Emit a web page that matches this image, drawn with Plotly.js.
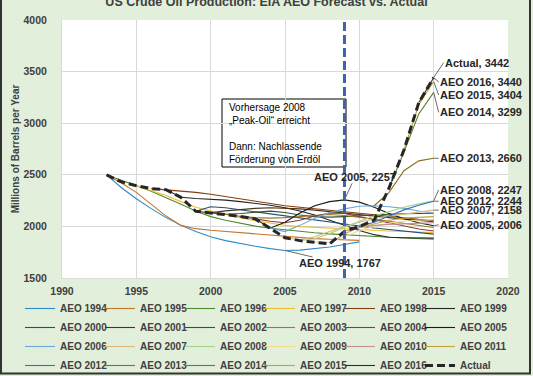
<!DOCTYPE html>
<html><head><meta charset="utf-8">
<script src="https://cdn.plot.ly/plotly-3.0.1.min.js"></script>
<style>html,body{margin:0;padding:0;background:#ffffff}#chart{width:533px;height:376px}</style>
</head><body><div id="chart"></div>
<script>
// ---------- DATA (millions of barrels per year) ----------
const seriesNames = ['AEO 1994','AEO 1995','AEO 1996','AEO 1997','AEO 1998','AEO 1999',
  'AEO 2000','AEO 2001','AEO 2002','AEO 2003','AEO 2004','AEO 2005',
  'AEO 2006','AEO 2007','AEO 2008','AEO 2009','AEO 2010','AEO 2011',
  'AEO 2012','AEO 2013','AEO 2014','AEO 2015','AEO 2016'];
const seriesStart = [1993,1993,1993,1995,1996,1997,1999,1999,2000,2001,2002,2003,
  2004,2005,2006,2007,2008,2009,2010,2011,2012,2013,2014];

const aeo1994 = [2499,2375,2268,2172,2085,2010,1950,1900,1862,1832,1808,1785,1767,1770,1782,1800,1825,1850];
const aeo1995 = [2499,2420,2330,2215,2100,2010,1978,1962,1950,1938,1925,1912,1900,1890,1882,1876,1870,1865];
const aeo1996 = [2499,2450,2395,2340,2280,2215,2150,2095,2060,2030,2003,1982,1965,1950,1938,1928,1918,1910,1902,1895,1888,1882,1876];
const aeo1997 = [2394,2350,2300,2240,2185,2150,2115,2085,2055,2030,2010,1998,1990,1982,1975,1968,1962,1956,1950,1945,1940];
const aeo1998 = [2366,2355,2345,2330,2312,2290,2265,2240,2218,2200,2185,2170,2155,2140,2125,2110,2095,2082,2070,2060];
const aeo1999 = [2355,2282,2270,2265,2255,2240,2225,2205,2180,2150,2110,2060,2010,1960,1920,1895,1890,1888,1886];
const aeo2000 = [2147,2190,2180,2160,2140,2120,2100,2080,2060,2040,2020,2000,1985,1970,1955,1940,1925];
const aeo2001 = [2147,2131,2150,2165,2175,2180,2178,2170,2158,2145,2130,2115,2100,2085,2070,2058,2045];
const aeo2002 = [2131,2118,2125,2140,2148,2135,2110,2095,2090,2095,2105,2112,2118,2122,2125,2128];
const aeo2003 = [2118,2097,2085,2080,2085,2095,2110,2115,2105,2090,2070,2050,2030,2010,1990];
const aeo2004 = [2097,2073,2050,2035,2060,2100,2130,2125,2095,2060,2030,2000,1975,1955];
const aeo2005 = [2073,1983,2040,2130,2200,2240,2257,2235,2185,2125,2075,2035,2006];
const aeo2006 = [1983,1950,2010,2080,2135,2170,2195,2200,2190,2175,2150,2130];
const aeo2007 = [1890,1870,1900,1950,2000,2040,2075,2100,2120,2140,2158];
const aeo2008 = [1862,1880,1930,1990,2050,2100,2145,2185,2218,2247];
const aeo2009 = [1848,1850,1900,1960,2000,2030,2050,2062,2070];
const aeo2010 = [1830,1930,1990,2010,2020,2025,2030,2035];
const aeo2011 = [1953,1990,2030,2060,2080,2090,2095];
const aeo2012 = [1999,2040,2100,2160,2205,2244];
const aeo2013 = [2200,2330,2540,2635,2660];
const aeo2014 = [2374,2720,3090,3299];
const aeo2015 = [2740,3180,3404];
const aeo2016 = [3200,3440];

const actualName = 'Actual';
const actualStart = 1993;
const actual = [2499,2431,2394,2366,2355,2282,2147,2131,2118,2097,2073,1983,1890,1862,1848,1830,1953,1999,2061,2374,2740,3200,3442];

const seriesValues = [aeo1994,aeo1995,aeo1996,aeo1997,aeo1998,aeo1999,aeo2000,aeo2001,
  aeo2002,aeo2003,aeo2004,aeo2005,aeo2006,aeo2007,aeo2008,aeo2009,aeo2010,aeo2011,
  aeo2012,aeo2013,aeo2014,aeo2015,aeo2016];

// labelled points: [series name, year]
const endLabelSeries = ['Actual','AEO 2016','AEO 2015','AEO 2014','AEO 2013','AEO 2008','AEO 2012','AEO 2007','AEO 2005'];
const midLabels = [['AEO 2005', 2009], ['AEO 1994', 2005]];

const chartTitle = 'US Crude Oil Production: EIA AEO Forecast vs. Actual';
const yTitle = 'Millions of Barrels per Year';
const boxText = 'Vorhersage 2008<br>„Peak-Oil“ erreicht<br><br>Dann: Nachlassende<br>Förderung von Erdöl';
const markerYear = 2009;

// ---------- STYLE ----------
const FONT = 'Arial, "Liberation Sans", sans-serif';
const colors = ['#2e8bc9','#c5762b','#4f8a2f','#f0c030','#843c0c','#262626',
  '#1f4e79','#4d3319','#375623','#9c7a2c','#8b3a3a','#1a1a1a',
  '#6fa8d8','#dcb87c','#a9d18e','#f2dc8c','#c78e8e','#bfa43a',
  '#2e75b6','#8a6d1e','#538135','#c8a02a','#3a2b1a'];
const endLabelOffsets = {
  'Actual':[10,-15], 'AEO 2016':[5,4], 'AEO 2015':[5,13.5], 'AEO 2014':[5,20],
  'AEO 2013':[5,0], 'AEO 2008':[5,-11], 'AEO 2012':[5,0], 'AEO 2007':[5,0], 'AEO 2005':[5,-1]
};
const midLabelOffsets = [[10.5,-23],[55,13]];
const legendCols = 6;
const legendLeft = 20, legendStep = 80, legendTop = 294;

// pixel helpers for paper coords (plot area 62..508 x 20..278)
const px = p => (p - 62) / 446;
const py = p => (278 - p) / 258;

// ---------- BUILD ----------
const legendId = i => { const c = i % legendCols; return c === 0 ? 'legend' : 'legend' + (c + 1); };
const yearsFrom = (start, vals) => vals.map((_, i) => start + i);
const traces = seriesNames.map((n, i) => ({
  type: 'scatter', mode: 'lines', name: n, legend: legendId(i),
  x: yearsFrom(seriesStart[i], seriesValues[i]), y: seriesValues[i],
  line: {color: colors[i], width: 1.1}, hoverinfo: 'x+y+name'
}));
traces.push({
  type: 'scatter', mode: 'lines', name: actualName, legend: legendId(seriesNames.length),
  x: yearsFrom(actualStart, actual), y: actual,
  line: {color: '#262626', width: 3, dash: '8px,4px'}
});

function lookup(name, year) {
  if (name === actualName) return actual[year - actualStart];
  const i = seriesNames.indexOf(name);
  return seriesValues[i][year - seriesStart[i]];
}

const labelFont = {family: FONT, size: 11, color: '#262626', weight: 700};
const annotations = [];
endLabelSeries.forEach(n => {
  const v = lookup(n, 2015);
  const off = endLabelOffsets[n];
  annotations.push({x: 2015, y: v, xref: 'x', yref: 'y', text: n + ', ' + v,
    showarrow: true, arrowhead: 0, arrowwidth: 1, arrowcolor: '#6b6b6b', standoff: 0,
    ax: off[0], ay: off[1], axref: 'pixel', ayref: 'pixel', xanchor: 'left', yanchor: 'middle',
    font: labelFont, borderpad: 0});
});
midLabels.forEach((m, k) => {
  const v = lookup(m[0], m[1]);
  annotations.push({x: m[1], y: v, xref: 'x', yref: 'y', text: m[0] + ', ' + v,
    showarrow: true, arrowhead: 0, arrowwidth: 1, arrowcolor: '#6b6b6b', standoff: 0,
    ax: midLabelOffsets[k][0], ay: midLabelOffsets[k][1], xanchor: 'center', yanchor: 'middle',
    font: labelFont, borderpad: 0});
});
annotations.push({xref: 'paper', yref: 'paper', x: px(227), y: py(100), xanchor: 'left', yanchor: 'top',
  align: 'left', text: boxText, showarrow: false, font: {family: FONT, size: 10, color: '#000000'}});

const shapes = [
  {type: 'rect', xref: 'paper', yref: 'paper', x0: px(222), x1: px(346), y0: py(167), y1: py(99),
   line: {color: '#000000', width: 1}, fillcolor: '#ffffff', layer: 'below'},
  {type: 'line', xref: 'x', yref: 'paper', x0: markerYear, x1: markerYear, y0: 0, y1: 1,
   line: {color: '#3b64ad', width: 3, dash: '9px,4px'}, layer: 'above'},
  {type: 'rect', xref: 'paper', yref: 'paper', x0: px(1), x1: px(530), y0: py(373.5), y1: py(-5),
   line: {color: '#333333', width: 2}, fillcolor: 'rgba(0,0,0,0)', layer: 'above'}
];

const tickFont = {family: FONT, size: 10.5, color: '#404040', weight: 700};
const layout = {
  width: 533, height: 376,
  margin: {l: 62, r: 25, t: 20, b: 98, autoexpand: false},
  paper_bgcolor: '#e2efda', plot_bgcolor: '#ffffff',
  title: {text: chartTitle, font: {family: FONT, size: 12.5, color: '#404040', weight: 700},
          x: 0.5, xanchor: 'center', y: 0.996, yanchor: 'middle', yref: 'container'},
  xaxis: {range: [1990, 2020], tick0: 1990, dtick: 5, showgrid: true, gridcolor: '#d9d9d9',
          zeroline: false, showline: true, linecolor: '#d9d9d9', ticks: '',
          tickfont: tickFont, ticklabelstandoff: 3, fixedrange: true},
  yaxis: {range: [1500, 4000], tick0: 1500, dtick: 500, showgrid: true, gridcolor: '#d9d9d9',
          zeroline: false, showline: true, linecolor: '#d9d9d9', ticks: '',
          tickfont: tickFont, ticklabelstandoff: 12,
          title: {text: yTitle, font: {family: FONT, size: 10, color: '#404040', weight: 700}, standoff: 2},
          fixedrange: true},
  showlegend: true,
  annotations: annotations,
  shapes: shapes
};
for (let c = 0; c < legendCols; c++) {
  const key = c === 0 ? 'legend' : 'legend' + (c + 1);
  layout[key] = {orientation: 'v', x: px(legendLeft + c * legendStep), xanchor: 'left',
    y: py(legendTop), yanchor: 'top', tracegroupgap: 0,
    font: {family: FONT, size: 10, color: '#404040', weight: 700},
    bgcolor: 'rgba(0,0,0,0)', borderwidth: 0, traceorder: 'normal'};
}
Plotly.newPlot('chart', traces, layout, {displayModeBar: false, staticPlot: true});
</script></body></html>
